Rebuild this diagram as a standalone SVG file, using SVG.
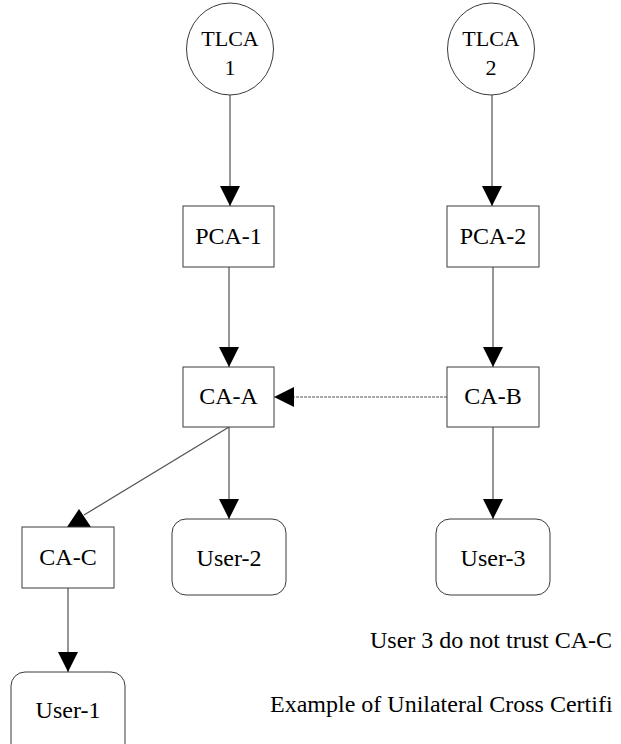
<svg xmlns="http://www.w3.org/2000/svg" width="621" height="744" viewBox="0 0 621 744">
  <style>
    .shape { fill: #ffffff; stroke: #3a3a3a; stroke-width: 1; }
    .lbl { font-family: "Liberation Serif", "Times New Roman", serif; font-size: 24px; fill: #000; text-anchor: middle; }
    .root { font-size: 22px; }
    .note { font-family: "Liberation Serif", "Times New Roman", serif; font-size: 24px; fill: #000; }
    .edge { stroke: #505050; stroke-width: 1.2; fill: none; }
    .dash { stroke: #505050; stroke-width: 1.2; fill: none; stroke-dasharray: 3 1; }
    .head { fill: #000; stroke: none; }
  </style>
  <defs>
    <marker id="arrow" viewBox="0 0 20 20" refX="20" refY="10" markerWidth="20" markerHeight="20" markerUnits="userSpaceOnUse" orient="auto">
      <path d="M0,0 L20,10 L0,20 Z" class="head"/>
    </marker>
  </defs>

  <rect width="621" height="744" fill="#ffffff"/>

  <!-- connectors -->
  <g id="connectors">
    <line class="edge" x1="230" y1="95" x2="230" y2="206" marker-end="url(#arrow)"/>
    <line class="edge" x1="492" y1="95" x2="492" y2="206" marker-end="url(#arrow)"/>
    <line class="edge" x1="229" y1="267" x2="229" y2="367" marker-end="url(#arrow)"/>
    <line class="edge" x1="493" y1="267" x2="493" y2="367" marker-end="url(#arrow)"/>
    <line class="dash" x1="447" y1="397" x2="274" y2="397" marker-end="url(#arrow)"/>
    <line class="edge" x1="229" y1="427" x2="229" y2="519" marker-end="url(#arrow)"/>
    <line class="edge" x1="493" y1="427" x2="493" y2="519" marker-end="url(#arrow)"/>
    <line class="edge" x1="229" y1="427" x2="84" y2="515"/>
    <polygon class="head" points="79,509 67,527 91,527"/>
    <line class="edge" x1="68" y1="588" x2="68" y2="672" marker-end="url(#arrow)"/>
  </g>

  <!-- nodes -->
  <g id="tlca1">
    <ellipse class="shape" cx="230" cy="49" rx="43.5" ry="46"/>
    <text class="lbl root" x="230" y="46">TLCA</text>
    <text class="lbl root" x="230" y="75">1</text>
  </g>
  <g id="tlca2">
    <ellipse class="shape" cx="491" cy="49" rx="43.5" ry="46"/>
    <text class="lbl root" x="491" y="46">TLCA</text>
    <text class="lbl root" x="491" y="75">2</text>
  </g>
  <g id="pca1">
    <rect class="shape" x="183" y="206" width="91" height="61"/>
    <text class="lbl" x="228.5" y="244">PCA-1</text>
  </g>
  <g id="pca2">
    <rect class="shape" x="447" y="206" width="92" height="61"/>
    <text class="lbl" x="493" y="244">PCA-2</text>
  </g>
  <g id="ca-a">
    <rect class="shape" x="183" y="367" width="91" height="60"/>
    <text class="lbl" x="228.5" y="404">CA-A</text>
  </g>
  <g id="ca-b">
    <rect class="shape" x="447" y="367" width="92" height="60"/>
    <text class="lbl" x="493" y="404">CA-B</text>
  </g>
  <g id="ca-c">
    <rect class="shape" x="22" y="527" width="92" height="61"/>
    <text class="lbl" x="68" y="565">CA-C</text>
  </g>
  <g id="user2">
    <rect class="shape" x="172" y="519" width="114" height="76" rx="14" ry="14"/>
    <text class="lbl" x="229" y="566">User-2</text>
  </g>
  <g id="user3">
    <rect class="shape" x="436" y="519" width="114" height="76" rx="14" ry="14"/>
    <text class="lbl" x="493" y="566">User-3</text>
  </g>
  <g id="user1">
    <rect class="shape" x="11" y="672" width="114" height="90" rx="14" ry="14"/>
    <text class="lbl" x="68" y="718">User-1</text>
  </g>

  <!-- notes -->
  <g id="notes">
    <text class="note" x="370" y="648">User 3 do not trust CA-C</text>
    <text class="note" x="270" y="712">Example of Unilateral Cross Certifi</text>
  </g>
</svg>
